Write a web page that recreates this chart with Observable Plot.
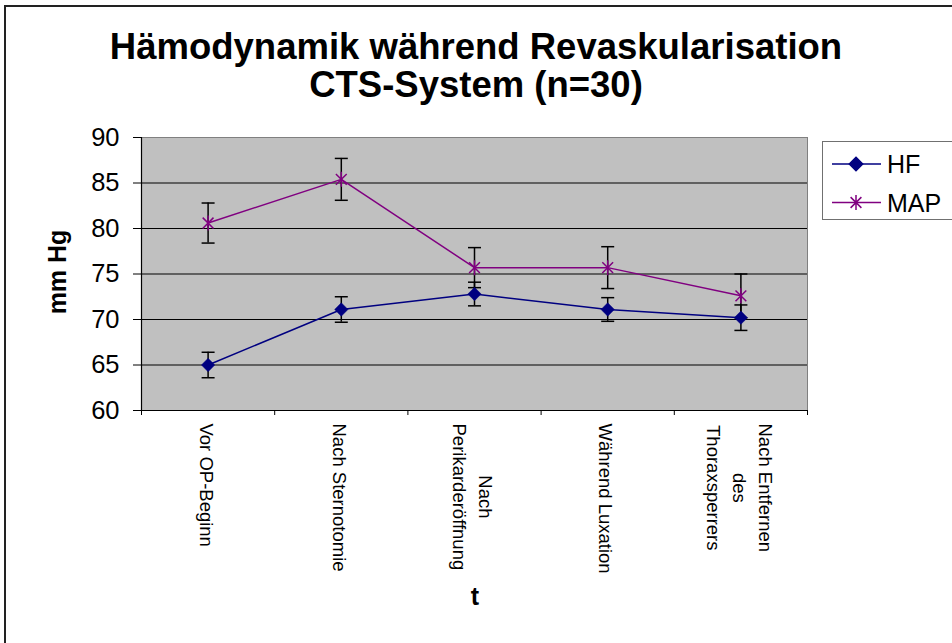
<!DOCTYPE html>
<html>
<head>
<meta charset="utf-8">
<script src="https://cdn.jsdelivr.net/npm/d3@7"></script>
<script src="https://cdn.jsdelivr.net/npm/@observablehq/plot@0.6"></script>
<style>
  html, body { margin: 0; padding: 0; background: #fff; }
  #wrap { position: relative; width: 952px; height: 643px; overflow: hidden; background: #fff;
          font-family: "Liberation Sans", Arial, sans-serif; color: #000; }
  #frameBorder { position: absolute; left: 4px; top: 5px; width: 1100px; height: 800px;
          border-left: 2px solid #222; border-top: 2px solid #222; }
  #chart { position: absolute; left: 0; top: 0; }
  .title { position: absolute; left: 0; width: 952px; text-align: center; font-weight: bold;
           font-size: 36.5px; line-height: 38px; top: 28px; }
  .ylab { position: absolute; left: 57px; top: 272px; font-weight: bold; font-size: 25px;
          transform: translate(-50%, -50%) rotate(-90deg); white-space: nowrap; }
  .xlab { position: absolute; left: 475px; top: 596px; font-weight: bold; font-size: 25px;
          transform: translate(-50%, -50%); }
  #legend { position: absolute; left: 822px; top: 141px; width: 160px; height: 77px;
            border: 1px solid #707070; background: #fff; }
</style>
</head>
<body>
<div id="wrap">
  <div id="frameBorder"></div>
  <div id="chart"></div>
  <div class="title">Hämodynamik während Revaskularisation<br>CTS-System (n=30)</div>
  <div class="ylab">mm Hg</div>
  <div class="xlab">t</div>
  <div id="legend"></div>
</div>
<script>
// ---- data ----
const categories = ["Vor OP-Beginn", "Nach Sternotomie", "Nach\nPerikarderöffnung", "Während Luxation", "Nach Entfernen\ndes\nThoraxsperrers"];
const seriesNames = ["HF", "MAP"];
const hfValues = [65.0, 71.1, 72.8, 71.1, 70.2];
const hfSd = [1.4, 1.4, 1.3, 1.3, 1.4];
const mapValues = [80.6, 85.4, 75.7, 75.7, 72.6];
const mapSd = [2.2, 2.3, 2.2, 2.3, 2.4];
const yTicks = [60, 65, 70, 75, 80, 85, 90];
const colors = {HF: "#000080", MAP: "#800080"};

// ---- derived table ----
const rows = [];
categories.forEach((c, i) => {
  rows.push({series: "HF", i, pos: i + 0.5, value: hfValues[i], sd: hfSd[i]});
  rows.push({series: "MAP", i, pos: i + 0.5, value: mapValues[i], sd: mapSd[i]});
});
const caps = rows.flatMap(d => [{pos: d.pos, y: d.value - d.sd}, {pos: d.pos, y: d.value + d.sd}]);
const bounds = d3.range(categories.length + 1);
const centers = categories.map((c, i) => i + 0.5);
const hfRows = rows.filter(d => d.series === "HF");
const mapRows = rows.filter(d => d.series === "MAP");

const capSymbol = {draw(ctx, size) { const r = Math.sqrt(size / Math.PI); ctx.moveTo(-r, 0); ctx.lineTo(r, 0); }};
const starSymbol = {draw(ctx, size) {
  const r = Math.sqrt(size / Math.PI); const k = r * 0.72;
  ctx.moveTo(0, -r); ctx.lineTo(0, r);
  ctx.moveTo(-k, -k); ctx.lineTo(k, k);
  ctx.moveTo(-k, k); ctx.lineTo(k, -k);
}};

const chart = Plot.plot({
  width: 952, height: 643,
  marginLeft: 141, marginRight: 145, marginTop: 137, marginBottom: 233,
  x: {domain: [0, categories.length], axis: null},
  y: {domain: [yTicks[0], yTicks[yTicks.length - 1]], axis: null},
  style: {fontFamily: "'Liberation Sans', Arial, sans-serif", color: "#000", background: "transparent", overflow: "visible"},
  marks: [
    Plot.frame({fill: "#c0c0c0", stroke: "#808080"}),
    Plot.gridY(yTicks.slice(1, -1), {stroke: "#000", strokeOpacity: 1, strokeWidth: 1}),
    Plot.axisY({ticks: yTicks, tickSize: 8, tickPadding: 14, fontSize: 25.5, label: null, stroke: "#000"}),
    Plot.axisX({ticks: bounds, tickSize: 5, tickFormat: () => "", label: null, stroke: "#000"}),
    Plot.axisX({ticks: centers, tickSize: 0, tickPadding: 13, rotate: 90, fontSize: 18.5, lineHeight: 1.4,
                lineAnchor: "middle", tickFormat: v => categories[Math.round(v - 0.5)], label: null}),
    Plot.ruleX([0], {stroke: "#000", strokeWidth: 1.2}),
    Plot.ruleY([yTicks[0]], {stroke: "#000", strokeWidth: 1.2}),
    Plot.ruleX(rows, {x: "pos", y1: d => d.value - d.sd, y2: d => d.value + d.sd, stroke: "#000", strokeWidth: 1.5}),
    Plot.dot(caps, {x: "pos", y: "y", symbol: capSymbol, r: 6.5, stroke: "#000", strokeWidth: 1.5, fill: "none"}),
    Plot.line(hfRows, {x: "pos", y: "value", stroke: colors.HF, strokeWidth: 1.5}),
    Plot.line(mapRows, {x: "pos", y: "value", stroke: colors.MAP, strokeWidth: 1.5}),
    Plot.dot(hfRows, {x: "pos", y: "value", symbol: "diamond2", r: 6, fill: colors.HF, stroke: colors.HF, strokeWidth: 0.5}),
    Plot.dot(mapRows, {x: "pos", y: "value", symbol: starSymbol, r: 7.5, stroke: colors.MAP, strokeWidth: 1.5, fill: "none"})
  ]
});
document.getElementById("chart").appendChild(chart);

// center each line of rotated multi-line tick labels against the longest line (top-aligned block)
chart.querySelectorAll('g[aria-label="x-axis tick label"] text').forEach(t => {
  const spans = t.querySelectorAll("tspan");
  if (!t.textContent) return;
  let maxLen = 0;
  if (spans.length) spans.forEach(s => { maxLen = Math.max(maxLen, s.getComputedTextLength()); });
  else maxLen = t.getComputedTextLength();
  t.setAttribute("text-anchor", "middle");
  const tr = t.getAttribute("transform") || "";
  t.setAttribute("transform", tr + ` translate(${maxLen / 2},0)`);
});

// legend
const leg = d3.select("#legend").append("svg").attr("width", 160).attr("height", 77)
  .style("font-family", "'Liberation Sans', Arial, sans-serif");
seriesNames.forEach((name, k) => {
  const y = 22 + k * 38.5;
  const g = leg.append("g").attr("transform", `translate(0,${y})`);
  g.append("line").attr("x1", 9).attr("x2", 58).attr("stroke", colors[name]).attr("stroke-width", 1.5);
  const sym = name === "HF" ? d3.symbol(d3.symbolDiamond2, 6 * 6 * Math.PI) : d3.symbol(starSymbol, 7.5 * 7.5 * Math.PI);
  g.append("path").attr("transform", "translate(33,0)").attr("d", sym())
    .attr("fill", name === "HF" ? colors[name] : "none").attr("stroke", colors[name]).attr("stroke-width", 1.5);
  g.append("text").attr("x", 64).attr("dy", "0.36em").attr("font-size", 25).text(name);
});
</script>
</body>
</html>
